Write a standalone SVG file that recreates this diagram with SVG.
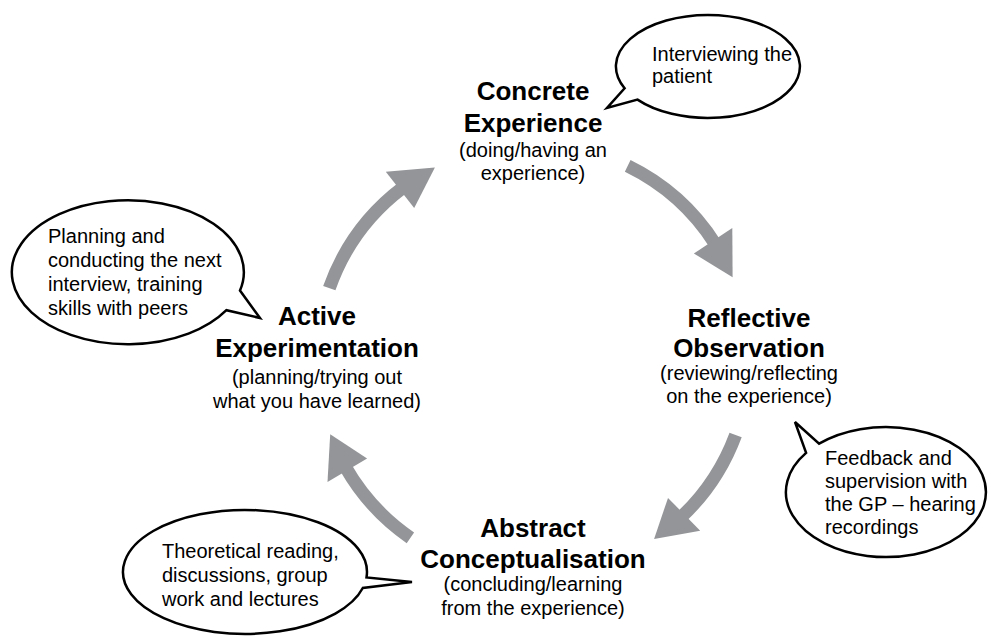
<svg xmlns="http://www.w3.org/2000/svg" width="992" height="637" viewBox="0 0 992 637">
  <style>
    text { font-family: "Liberation Sans", Arial, Helvetica, sans-serif; fill: #000; }
    .title { font-size: 26px; font-weight: bold; text-anchor: middle; }
    .sub { font-size: 20px; text-anchor: middle; }
    .note { font-size: 20px; }
    .shaft { fill: none; stroke: #939598; stroke-width: 13; stroke-linecap: butt; }
    .head { fill: #939598; }
    .bubble { fill: #fff; stroke: #000; stroke-width: 2.5; stroke-linejoin: miter; }
  </style>

  <rect width="992" height="637" fill="#fff"/>

  <!-- cycle arrows on a circle centred at (533,360), r=216 -->
  <g id="connectors">
    <g id="arrow-active-to-concrete">
      <path class="shaft" d="M 329.3 288.2 A 216 216 0 0 1 403.0 187.5"/>
      <polygon class="head" points="385.8,171.7 434.9,167.5 414.2,207.9"/>
    </g>
    <g id="arrow-concrete-to-reflective">
      <path class="shaft" d="M 627.7 165.9 A 216 216 0 0 1 715.2 243.9"/>
      <polygon class="head" points="732.3,228.1 732.6,277.3 693.9,253.5"/>
    </g>
    <g id="arrow-reflective-to-abstract">
      <path class="shaft" d="M 735.6 434.9 A 216 216 0 0 1 681.4 516.9"/>
      <polygon class="head" points="700.2,530.7 654.1,538.9 668.0,497.9"/>
    </g>
    <g id="arrow-abstract-to-active">
      <path class="shaft" d="M 410.4 537.8 A 216 216 0 0 1 345.4 467.0"/>
      <polygon class="head" points="327.5,482.0 330.2,434.2 367.1,458.6"/>
    </g>
  </g>

  <!-- stage labels -->
  <g id="concrete-experience">
    <text class="title" x="533" y="100">Concrete</text>
    <text class="title" x="533" y="132">Experience</text>
    <text class="sub" x="533" y="157">(doing/having an</text>
    <text class="sub" x="533" y="180">experience)</text>
  </g>
  <g id="reflective-observation">
    <text class="title" x="749" y="327">Reflective</text>
    <text class="title" x="749" y="357">Observation</text>
    <text class="sub" x="749" y="380">(reviewing/reflecting</text>
    <text class="sub" x="749" y="403">on the experience)</text>
  </g>
  <g id="abstract-conceptualisation">
    <text class="title" x="533" y="537">Abstract</text>
    <text class="title" x="533" y="568">Conceptualisation</text>
    <text class="sub" x="533" y="591">(concluding/learning</text>
    <text class="sub" x="533" y="615">from the experience)</text>
  </g>
  <g id="active-experimentation">
    <text class="title" x="317" y="325">Active</text>
    <text class="title" x="317" y="357">Experimentation</text>
    <text class="sub" x="317" y="384">(planning/trying out</text>
    <text class="sub" x="317" y="408">what you have learned)</text>
  </g>

  <!-- speech bubbles -->
  <g id="bubble-interviewing">
    <path class="bubble" d="M 624.6 88.3 A 92 51.5 0 1 1 637.5 99.6 L 607 108 Z"/>
    <text class="note" x="652" y="61">Interviewing the</text>
    <text class="note" x="652" y="83">patient</text>
  </g>
  <g id="bubble-planning">
    <path class="bubble" d="M 240.0 290.6 A 116 72 0 1 0 226.4 310.2 L 260 318 Z"/>
    <text class="note" x="48" y="243">Planning and</text>
    <text class="note" x="48" y="267">conducting the next</text>
    <text class="note" x="48" y="291">interview, training</text>
    <text class="note" x="48" y="315">skills with peers</text>
  </g>
  <g id="bubble-feedback">
    <path class="bubble" d="M 806.1 452.9 A 100 65 0 1 0 819.1 443.7 L 795 422 Z"/>
    <text class="note" x="825" y="465">Feedback and</text>
    <text class="note" x="825" y="488">supervision with</text>
    <text class="note" x="825" y="511">the GP – hearing</text>
    <text class="note" x="825" y="534">recordings</text>
  </g>
  <g id="bubble-theory">
    <path class="bubble" d="M 366.5 577.4 A 122 62 0 1 0 362.8 588.0 L 412 582 Z"/>
    <text class="note" x="162" y="558">Theoretical reading,</text>
    <text class="note" x="162" y="582">discussions, group</text>
    <text class="note" x="162" y="606">work and lectures</text>
  </g>
</svg>
